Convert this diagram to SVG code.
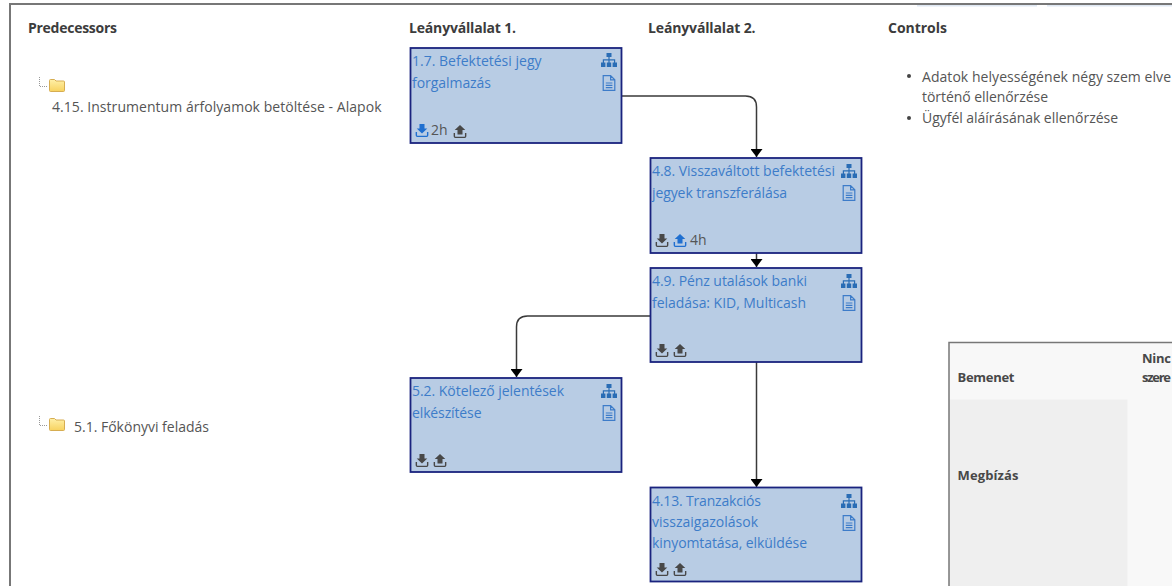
<svg xmlns="http://www.w3.org/2000/svg" width="1172" height="586" viewBox="0 0 1172 586">
<style>
text{font-family:"Open Sans","Noto Sans","Liberation Sans",sans-serif;font-size:14px;fill:#555}
.h{font-weight:700;fill:#3c3c3c}
.th{font-size:13px;fill:#484848}
.t{fill:#3d7cc9}
.n{fill:#b8cce4;stroke:#1a237e;stroke-width:1.8}
.c{fill:none;stroke:#3a3a3a;stroke-width:1.5}
.tree{fill:none;stroke:#999;stroke-width:1;stroke-dasharray:1 1}
.b{color:#1f6fd0;fill:#1f6fd0}
.d{color:#484848;fill:#484848}
</style>
<defs>
<marker id="arr" viewBox="0 0 8 12" refX="8" refY="6" markerWidth="8" markerHeight="12" markerUnits="userSpaceOnUse" orient="auto"><path d="M0 0L8 6L0 12Z" fill="#000"/></marker>
<symbol id="org" viewBox="0 0 16 14" overflow="visible"><path fill="#2a6db5" d="M5.500 0h5v4h-5zM0 9.500h4.400v4.500H0zM5.800 9.500h4.400v4.500H5.800zM11.600 9.500H16v4.500h-4.400zM7.400 4h1.200v2.200h5.600v3.300H13V7.400H8.600v2.100H7.400V7.400H3v2.100H1.800V6.200h5.600z"/></symbol>
<symbol id="doc" viewBox="0 0 14 16" overflow="visible"><path fill="none" stroke="#3d7cc9" stroke-width="1.200" d="M1.200.6h7.400l4.200 4.200v10.600H1.200zM8.600.6v4.200h4.200M3.800 8h6.600M3.800 10.300h6.600M3.800 12.600h6.600"/></symbol>
<symbol id="dl" viewBox="0 0 14 14" overflow="visible"><path d="M4.300 0h5.400v4.800h3L7 10.200 1.300 4.800h3z"/><path d="M.9 8.600v3.600q0 1.100 1.100 1.100h10q1.100 0 1.100-1.100V8.600" fill="none" stroke="currentColor" stroke-width="1.500"/></symbol>
<symbol id="ul" viewBox="0 0 14 14" overflow="visible"><path d="M4.300 10.200h5.400V5.400h3L7 0 1.300 5.400h3z"/><path d="M.9 8.600v3.600q0 1.100 1.100 1.100h10q1.100 0 1.100-1.100V8.600" fill="none" stroke="currentColor" stroke-width="1.500"/></symbol>
<linearGradient id="fg" x1="0" y1="0" x2="0" y2="1"><stop offset="0" stop-color="#fff0a8"/><stop offset="1" stop-color="#f7d25f"/></linearGradient>
<symbol id="folder" viewBox="0 0 16 13" overflow="visible"><path fill="url(#fg)" stroke="#d6ad52" d="M.5 3V1.500q0-1 1-1h4L7 2h7.500q1 0 1 1v8.500q0 1-1 1h-13q-1 0-1-1z"/></symbol>
</defs>

<g id="frame">
<rect x="917" y="5" width="120" height="1.500" fill="#dfe8f3"/>
<rect x="1047" y="5" width="125" height="1.500" fill="#dfe8f3"/>
<path d="M10 586V4H1172" fill="none" stroke="#777" stroke-width="2"/>
</g>

<g id="headers">
<text class="h" x="28" y="33" textLength="89">Predecessors</text>
<text class="h" x="409" y="33" textLength="107">Leányvállalat 1.</text>
<text class="h" x="648" y="33" textLength="107.500">Leányvállalat 2.</text>
<text class="h" x="888" y="33" textLength="59">Controls</text>
</g>

<g id="pred-1">
<path class="tree" d="M39.500 77v9.500H48"/>
<use href="#folder" x="49" y="79" width="16" height="13"/>
<text x="52" y="112" textLength="329.500">4.15. Instrumentum árfolyamok betöltése - Alapok</text>
</g>
<g id="pred-2">
<path class="tree" d="M39.500 416v9.500H48"/>
<use href="#folder" x="49" y="418" width="16" height="13"/>
<text x="74" y="432" textLength="135">5.1. Főkönyvi feladás</text>
</g>

<g id="controls">
<circle cx="909" cy="76" r="2" fill="#444"/>
<text x="922" y="82" textLength="249">Adatok helyességének négy szem elve</text>
<text x="922" y="102" textLength="126">történő ellenőrzése</text>
<circle cx="909" cy="118" r="2" fill="#444"/>
<text x="922" y="123" textLength="196">Ügyfél aláírásának ellenőrzése</text>
</g>

<g id="table">
<rect x="949" y="342.500" width="223" height="243.500" fill="#f8f8f8"/>
<rect x="949" y="399.500" width="178.500" height="186.500" fill="#efefef"/>
<path d="M949 586V342.500H1172" fill="none" stroke="#777" stroke-width="1.500"/>
<text class="h th" x="957.500" y="381.500" textLength="57">Bemenet</text>
<text class="h th" x="1142" y="363" textLength="29">Ninc</text>
<text class="h th" x="1142" y="381.500" textLength="29">szere</text>
<text class="h th" x="957.500" y="480" textLength="61">Megbízás</text>
</g>

<g id="connectors">
<path class="c" d="M622 96H745.500q11 0 11 11V157" marker-end="url(#arr)"/>
<path class="c" d="M756.500 253V267" marker-end="url(#arr)"/>
<path class="c" d="M650 316H527.500q-11 0-11 11V377" marker-end="url(#arr)"/>
<path class="c" d="M756.500 362V487" marker-end="url(#arr)"/>
</g>

<g id="node-1-7">
<rect class="n" x="410.500" y="48" width="211" height="95"/>
<text class="t" x="412" y="66" textLength="129.500">1.7. Befektetési jegy</text>
<text class="t" x="412" y="88" textLength="79">forgalmazás</text>
<use href="#org" x="601" y="53" width="16" height="14"/>
<use href="#doc" x="602" y="75" width="14" height="16"/>
<use href="#dl" x="415.500" y="124" width="13" height="13" class="b"/>
<text x="431" y="135">2h</text>
<use href="#ul" x="453.500" y="125" width="13" height="13" class="d"/>
</g>

<g id="node-4-8">
<rect class="n" x="650.500" y="158" width="211" height="95"/>
<text class="t" x="652" y="176" textLength="183">4.8. Visszaváltott befektetési</text>
<text class="t" x="652" y="198" textLength="135">jegyek transzferálása</text>
<use href="#org" x="841" y="164" width="16" height="14"/>
<use href="#doc" x="842" y="185" width="14" height="16"/>
<use href="#dl" x="655.500" y="234" width="13" height="13" class="d"/>
<use href="#ul" x="673.500" y="234" width="13" height="13" class="b"/>
<text x="690" y="245">4h</text>
</g>

<g id="node-4-9">
<rect class="n" x="650.500" y="268" width="211" height="94"/>
<text class="t" x="652" y="286" textLength="155">4.9. Pénz utalások banki</text>
<text class="t" x="652" y="308" textLength="154">feladása: KID, Multicash</text>
<use href="#org" x="841" y="274" width="16" height="14"/>
<use href="#doc" x="842" y="295" width="14" height="16"/>
<use href="#dl" x="655.500" y="344" width="13" height="13" class="d"/>
<use href="#ul" x="673.500" y="344" width="13" height="13" class="d"/>
</g>

<g id="node-5-2">
<rect class="n" x="410.500" y="378" width="211" height="94"/>
<text class="t" x="412" y="396" textLength="152">5.2. Kötelező jelentések</text>
<text class="t" x="412" y="418" textLength="69.500">elkészítése</text>
<use href="#org" x="601" y="384" width="16" height="14"/>
<use href="#doc" x="602" y="405" width="14" height="16"/>
<use href="#dl" x="415.500" y="454" width="13" height="13" class="d"/>
<use href="#ul" x="433.500" y="454" width="13" height="13" class="d"/>
</g>

<g id="node-4-13">
<rect class="n" x="650.500" y="487.500" width="211" height="94"/>
<text class="t" x="652" y="505.500" textLength="109">4.13. Tranzakciós</text>
<text class="t" x="652" y="527" textLength="106">visszaigazolások</text>
<text class="t" x="652" y="548" textLength="155">kinyomtatása, elküldése</text>
<use href="#org" x="841" y="494" width="16" height="14"/>
<use href="#doc" x="842" y="515" width="14" height="16"/>
<use href="#dl" x="655.500" y="563" width="13" height="13" class="d"/>
<use href="#ul" x="673.500" y="563" width="13" height="13" class="d"/>
</g>
</svg>
